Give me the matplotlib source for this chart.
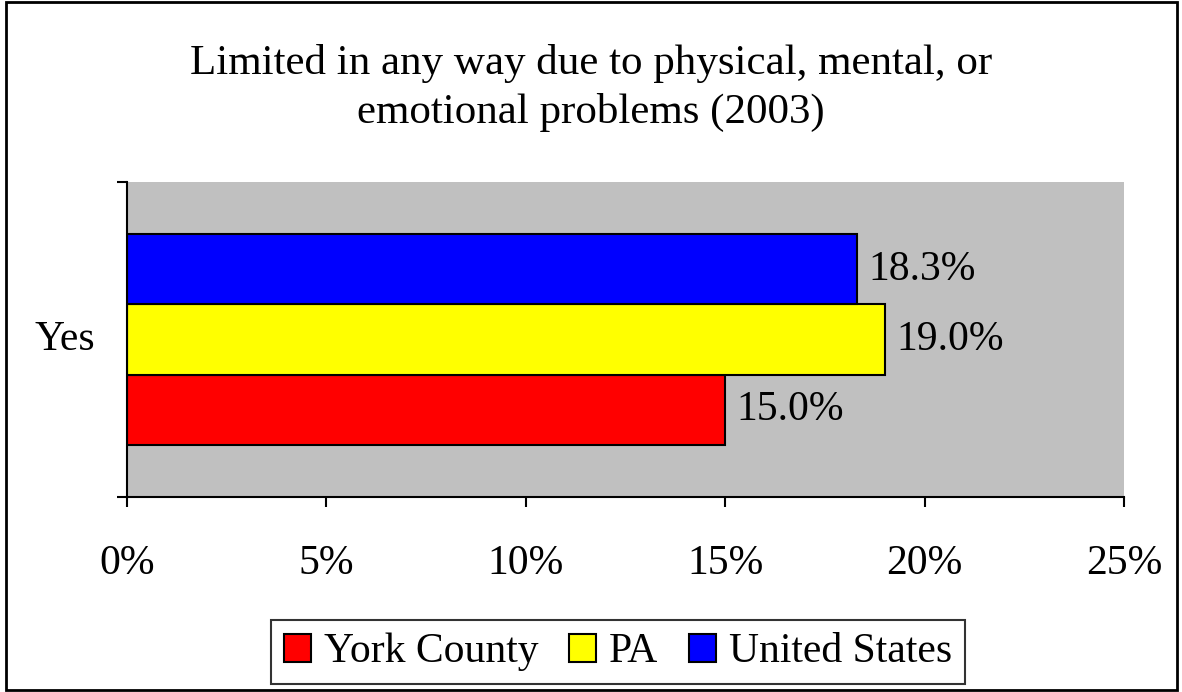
import matplotlib
matplotlib.use("Agg")
import matplotlib.pyplot as plt
from matplotlib.patches import Rectangle

categories = ["Yes"]
series = ["York County", "PA", "United States"]
values = [15.0, 19.0, 18.3]
colors = ["#FF0000", "#FFFF00", "#0000FF"]
xticks = [0, 5, 10, 15, 20, 25]
title = "Limited in any way due to physical, mental, or\nemotional problems (2003)"

plt.rcParams["font.family"] = ["Liberation Serif", "DejaVu Serif"]
FS = 30

fig = plt.figure(figsize=(11.82, 6.92), dpi=100)
ax = fig.add_axes([127 / 1182, 1 - 497 / 692, (1124 - 127) / 1182, (497 - 182) / 692])
ax.set_facecolor("#C0C0C0")

bar_h = 0.223
offsets = [-bar_h, 0, bar_h]
for name, val, col, off in zip(series, values, colors, offsets):
    ax.barh(0 + off, val, height=bar_h, color=col, edgecolor="black",
            linewidth=1.5, label=name)
    ax.text(val + 0.28, off, f"{val:.1f}%", va="center", ha="left", fontsize=FS)

ax.set_xlim(0, 25)
ax.set_ylim(-0.5, 0.5)
ax.set_xticks(xticks)
ax.set_xticklabels([f"{t}%" for t in xticks], fontsize=FS)
ax.set_yticks([-0.5, 0.5])
ax.set_yticklabels([])
ax.text(-0.032, 0, categories[0], transform=ax.get_yaxis_transform(),
        ha="right", va="center", fontsize=FS)
ax.tick_params(axis="both", direction="out", length=7, width=1.5)
ax.tick_params(axis="x", pad=27)
for side in ["top", "right"]:
    ax.spines[side].set_visible(False)
for side in ["left", "bottom"]:
    ax.spines[side].set_linewidth(1.5)

fig.text(0.5, 1 - 88 / 692, title, ha="center", va="center", fontsize=FS + 1,
         linespacing=1.35)

handles, labels = ax.get_legend_handles_labels()
leg = fig.legend(handles, labels, loc="center", bbox_to_anchor=(618 / 1182, 1 - 652 / 692),
                 ncol=3, fontsize=FS, frameon=True, fancybox=False, edgecolor="black",
                 handlelength=0.65, handleheight=0.65, handletextpad=0.3, columnspacing=0.75,
                 borderpad=0.3, borderaxespad=0)
leg.get_frame().set_linewidth(1.5)

fig.patches.append(Rectangle((0.005, 0.003), 0.991, 0.994, transform=fig.transFigure,
                             fill=False, edgecolor="black", linewidth=2))

fig.savefig("out.png", dpi=100)
